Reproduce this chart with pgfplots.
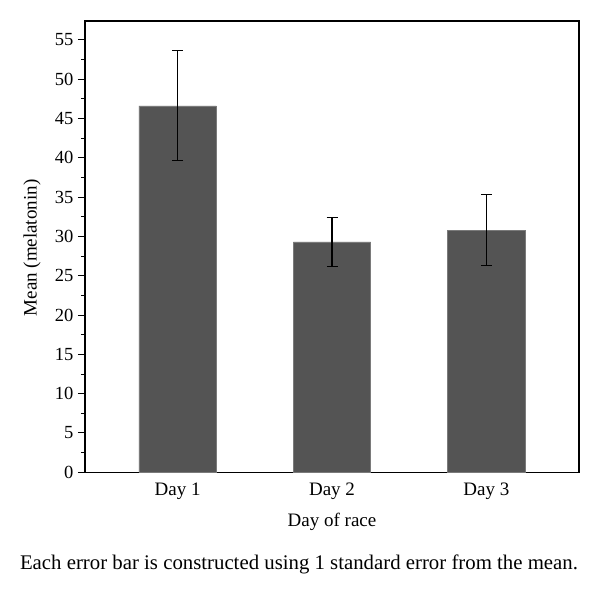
\documentclass[border=0pt]{standalone}
\usepackage{fontspec}
\setmainfont{Liberation Serif}
\usepackage{pgfplots}
\pgfplotsset{compat=1.18}
\definecolor{barfill}{HTML}{545454}
\definecolor{baredge}{HTML}{7A7A7A}
\begin{document}
\begin{tikzpicture}
\useasboundingbox (0,0) rectangle (600pt,597pt);
\begin{axis}[
  at={(85pt,124.7pt)}, anchor=south west,
  scale only axis,
  width=494pt, height=451.3pt,
  xmin=0.4, xmax=3.6,
  ymin=0, ymax=57.4,
  xtick={1,2,3},
  xticklabels={Day 1, Day 2, Day 3},
  x tick style={draw=none},
  ytick={0,5,...,55},
  minor y tick num=1,
  tick align=outside,
  ytick pos=left,
  major tick length=7pt,
  minor tick length=4pt,
  axis line style={line width=1.2pt},
  every tick/.style={line width=1pt, black},
  /pgf/number format/assume math mode=true,
  yticklabel style={font=\fontsize{18.5}{21}\selectfont, xshift=-1pt},
  xticklabel style={font=\fontsize{19}{22}\selectfont},
  xlabel={Day of race},
  ylabel={Mean (melatonin)},
  xlabel style={font=\fontsize{19}{22}\selectfont, at={(axis description cs:0.5,0)}, anchor=base, yshift=-54pt},
  ylabel style={font=\fontsize{19}{22}\selectfont, at={(axis description cs:-0.1073,0.497)}, anchor=center},
  clip=false,
]
\addplot[ybar, bar width=77.4pt, fill=barfill, draw=baredge, line width=0.6pt,
  error bars/.cd, y dir=both, y explicit,
  error bar style={line width=1.2pt, black},
  error mark options={rotate=90, mark size=5.5pt, line width=1.2pt, black}]
  table[x=x, y=y, y error plus=ep, y error minus=em] {
  x y ep em
  1 46.6 7.0 6.9
  2 29.3 3.1 3.1
  3 30.8 4.5 4.5
};
\end{axis}
\node[anchor=base, font=\fontsize{20.8}{24}\selectfont] at (299pt,27pt) {Each error bar is constructed using 1 standard error from the mean.};
\end{tikzpicture}
\end{document}
